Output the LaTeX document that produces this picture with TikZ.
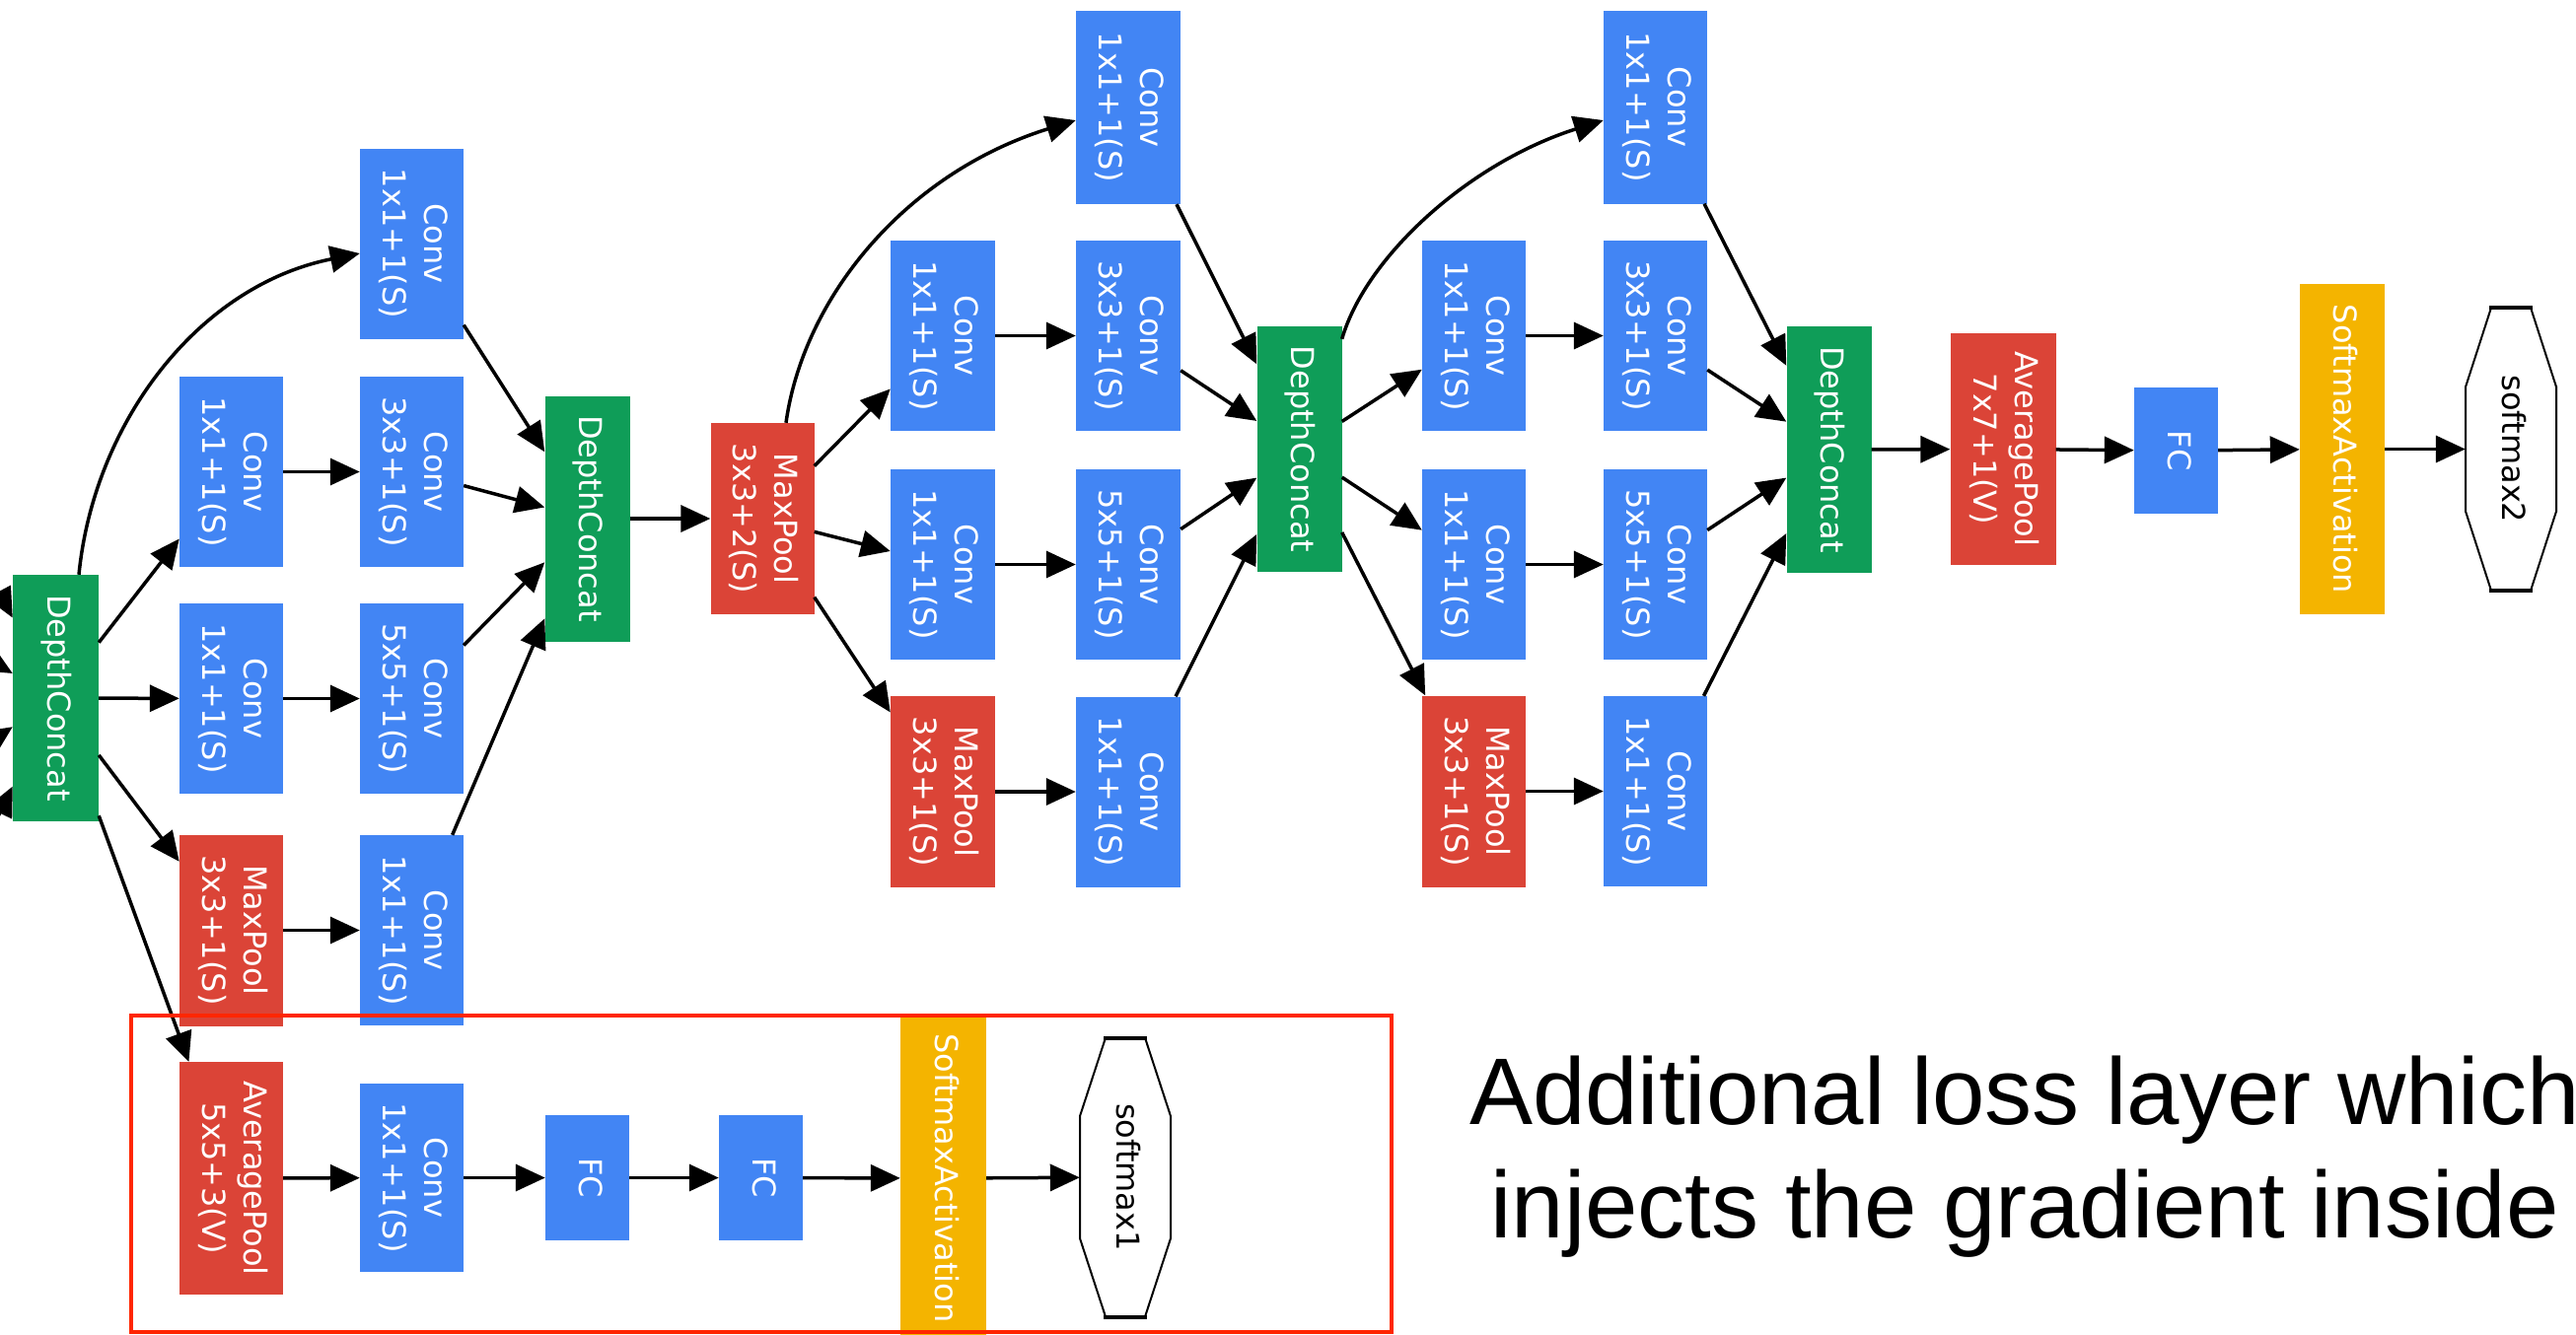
\documentclass[tikz,border=0pt]{standalone}
\usepackage{fontspec}
\usetikzlibrary{arrows.meta,calc}
\newfontfamily\dvfont{DejaVu Sans}
\newfontfamily\notefont{Liberation Sans}
\definecolor{gblue}{RGB}{66,133,244}
\definecolor{ggreen}{RGB}{15,157,88}
\definecolor{gred}{RGB}{219,68,55}
\definecolor{gyellow}{RGB}{244,180,0}
\definecolor{frameRed}{RGB}{255,38,0}
\newcommand\vtxt[1]{\rotatebox{-90}{\begin{tabular}{@{}c@{}}#1\end{tabular}}}
\begin{document}
\begin{tikzpicture}[x=1pt,y=-1pt,
  box/.style={rectangle, inner sep=0pt, text=white, font=\dvfont\fontsize{32}{42}\selectfont},
  conv/.style={box, fill=gblue, minimum width=105pt, minimum height=193pt},
  pool/.style={box, fill=gred, minimum width=105pt, minimum height=194pt},
  avgpool/.style={box, fill=gred, minimum width=106pt, minimum height=235pt},
  concat/.style={box, fill=ggreen, minimum width=86pt, minimum height=249pt},
  fc/.style={box, fill=gblue, minimum width=85pt, minimum height=128pt},
  softact/.style={box, fill=gyellow, minimum width=86pt, minimum height=335pt},
  outnode/.style={box, text=black, minimum width=92pt, minimum height=287pt},
  edge/.style={line width=3.5pt, -{Triangle[length=30pt,width=27pt]}},
  octo/.style={line width=2pt},
  notetext/.style={font=\notefont\fontsize{96}{115}\selectfont, inner sep=0pt, anchor=base}
]
\useasboundingbox (0,0) rectangle (2612,1353);
\fill[white] (0,0) rectangle (2612,1353);
\clip (0,0) rectangle (2612,1353);

% off-picture sources feeding the first DepthConcat
\coordinate (p1) at (-121.5,376);
\coordinate (p2) at (-121.5,606);
\coordinate (p3) at (-121.5,827);
\coordinate (p4) at (-121.5,1073);

% first DepthConcat
\node[concat, minimum width=87pt, minimum height=250pt] (DC0) at (56.5,708) {\vtxt{DepthConcat}};

% inception block 1
\node[conv] (A1) at (417.5,247) {\vtxt{Conv\\1x1+1(S)}};
\node[conv] (B1) at (234.5,478.5) {\vtxt{Conv\\1x1+1(S)}};
\node[conv] (B2) at (417.5,478.5) {\vtxt{Conv\\3x3+1(S)}};
\node[conv] (C1) at (234.5,708.5) {\vtxt{Conv\\1x1+1(S)}};
\node[conv] (C2) at (417.5,708.5) {\vtxt{Conv\\5x5+1(S)}};
\node[pool] (D1) at (234.5,943.5) {\vtxt{MaxPool\\3x3+1(S)}};
\node[conv] (D2) at (417.5,943.5) {\vtxt{Conv\\1x1+1(S)}};
\node[concat] (DC1) at (595.5,526) {\vtxt{DepthConcat}};

\node[pool] (MP) at (773,526) {\vtxt{MaxPool\\3x3+2(S)}};

% inception block 2
\node[conv, minimum width=106pt, minimum height=196pt] (A2) at (1144,109) {\vtxt{Conv\\1x1+1(S)}};
\node[conv, minimum width=106pt] (B21) at (956,340.5) {\vtxt{Conv\\1x1+1(S)}};
\node[conv, minimum width=106pt] (B22) at (1144,340.5) {\vtxt{Conv\\3x3+1(S)}};
\node[conv, minimum width=106pt] (C21) at (956,572.5) {\vtxt{Conv\\1x1+1(S)}};
\node[conv, minimum width=106pt] (C22) at (1144,572.5) {\vtxt{Conv\\5x5+1(S)}};
\node[pool, minimum width=106pt] (D21) at (956,803) {\vtxt{MaxPool\\3x3+1(S)}};
\node[conv, minimum width=106pt] (D22) at (1144,803) {\vtxt{Conv\\1x1+1(S)}};
\node[concat] (DC2) at (1317.5,455.5) {\vtxt{DepthConcat}};

% inception block 3
\node[conv, minimum height=196pt] (A3) at (1678.5,108.5) {\vtxt{Conv\\1x1+1(S)}};
\node[conv] (B31) at (1494.5,340.5) {\vtxt{Conv\\1x1+1(S)}};
\node[conv] (B32) at (1678.5,340.5) {\vtxt{Conv\\3x3+1(S)}};
\node[conv] (C31) at (1494.5,572.5) {\vtxt{Conv\\1x1+1(S)}};
\node[conv] (C32) at (1678.5,572.5) {\vtxt{Conv\\5x5+1(S)}};
\node[pool] (D31) at (1494.5,802.5) {\vtxt{MaxPool\\3x3+1(S)}};
\node[conv] (D32) at (1678.5,802.5) {\vtxt{Conv\\1x1+1(S)}};
\node[concat, minimum height=250pt] (DC3) at (1854.5,456) {\vtxt{DepthConcat}};

% output head
\node[avgpool, minimum width=107pt] (AP) at (2031,455.5) {\vtxt{AveragePool\\7x7+1(V)}};
\node[fc] (FC) at (2206.5,457) {\vtxt{FC}};
\node[softact] (SA) at (2375,455.5) {\vtxt{SoftmaxActivation}};
\node[outnode] (SM2) at (2546,455.5) {\vtxt{softmax2}};

% auxiliary head
\node[avgpool, minimum width=105pt, minimum height=236pt] (E1) at (234.5,1195) {\vtxt{AveragePool\\5x5+3(V)}};
\node[conv, minimum height=191pt] (E2) at (417.5,1194.5) {\vtxt{Conv\\1x1+1(S)}};
\node[fc, minimum height=127pt] (E3) at (595.5,1194.5) {\vtxt{FC}};
\node[fc, minimum height=127pt] (E4) at (771.5,1194.5) {\vtxt{FC}};
\node[softact, minimum width=87pt] (E5) at (956.5,1195) {\vtxt{SoftmaxActivation}};
\node[outnode, minimum height=283pt] (SM1) at (1141,1194) {\vtxt{softmax1}};

% octagon outlines of the output nodes
\begin{scope}[shift={(SM2.center)}]
  \draw[octo] (-20,-143.5) -- (20,-143.5) -- (46,-63) -- (46,63) -- (20,143.5) -- (-20,143.5) -- (-46,63) -- (-46,-63) -- cycle;
  \draw[line width=4pt] (-22,-143.5) -- (22,-143.5) (-22,143.5) -- (22,143.5);
\end{scope}
\begin{scope}[shift={(SM1.center)}]
  \draw[octo] (-20,-141.5) -- (20,-141.5) -- (46,-62) -- (46,62) -- (20,141.5) -- (-20,141.5) -- (-46,62) -- (-46,-62) -- cycle;
  \draw[line width=4pt] (-22,-141.5) -- (22,-141.5) (-22,141.5) -- (22,141.5);
\end{scope}

% connectors
\foreach \s in {p1,p2,p3,p4} \draw[edge] (\s) -- (DC0);

\draw[edge] ([xshift=23.5pt]DC0.north) .. controls (95,430) and (200,290) .. ([yshift=-10pt]A1.west);
\foreach \t in {B1,C1,D1,E1} \draw[edge] (DC0) -- (\t);
\draw[edge] (B1) -- (B2);
\draw[edge] (C1) -- (C2);
\draw[edge] (D1) -- (D2);
\foreach \s in {A1,B2,C2,D2} \draw[edge] (\s) -- (DC1);
\draw[edge] (DC1) -- (MP);

\draw[edge] ([xshift=24pt]MP.north) .. controls (815,300) and (920,175) .. ([yshift=-13pt]A2.west);
\foreach \t in {B21,C21,D21} \draw[edge] (MP) -- (\t);
\draw[edge] (B21) -- (B22);
\draw[edge] (C21) -- (C22);
\draw[edge] (D21) -- (D22);
\foreach \s in {A2,B22,C22,D22} \draw[edge] (\s) -- (DC2);

\draw[edge] ([yshift=-13pt]DC2.north east) .. controls (1385,260) and (1490,165) .. ([yshift=-13.5pt]A3.west);
\foreach \t in {B31,C31,D31} \draw[edge] (DC2) -- (\t);
\draw[edge] (B31) -- (B32);
\draw[edge] (C31) -- (C32);
\draw[edge] (D31) -- (D32);
\foreach \s in {A3,B32,C32,D32} \draw[edge] (\s) -- (DC3);

\draw[edge] (DC3) -- (AP);
\draw[edge] (AP) -- (FC);
\draw[edge] (FC) -- (SA);
\draw[edge] (SA) -- (SM2);

\draw[edge] (E1) -- (E2);
\draw[edge] (E2) -- (E3);
\draw[edge] (E3) -- (E4);
\draw[edge] (E4) -- (E5);
\draw[edge] (E5) -- (SM1);

% highlight frame around the auxiliary head
\draw[frameRed, line width=4pt] (133,1030) rectangle (1411,1351);

% annotation
\node[notetext] (note1) at (2053,1140) {Additional loss layer which};
\node[notetext] (note2) at (2053,1255) {injects the gradient inside};
\end{tikzpicture}
\end{document}
